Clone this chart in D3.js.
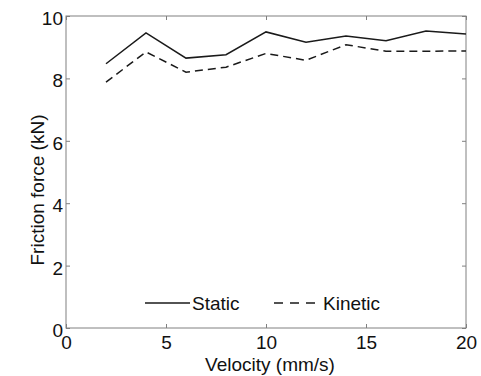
<!DOCTYPE html>
<html>
<head>
<meta charset="utf-8">
<script src="https://cdn.jsdelivr.net/npm/d3@7"></script>
<style>
  body { margin: 0; background: #fff; }
  text { font-family: "Liberation Sans", Arial, sans-serif; }
</style>
</head>
<body>
<svg id="chart" width="481" height="376"></svg>
<script>
var velocity = [2, 4, 6, 8, 10, 12, 14, 16, 18, 20];
var staticForce = [8.47, 9.46, 8.65, 8.76, 9.49, 9.16, 9.36, 9.21, 9.52, 9.42];
var kineticForce = [7.88, 8.85, 8.20, 8.36, 8.80, 8.58, 9.08, 8.87, 8.87, 8.88];
var xTicks = [0, 5, 10, 15, 20];
var yTicks = [0, 2, 4, 6, 8, 10];

var svg = d3.select("#chart"),
  margin = { top: 16, right: 15, bottom: 48, left: 66 },
  width = +svg.attr("width") - margin.left - margin.right,
  height = +svg.attr("height") - margin.top - margin.bottom,
  g = svg.append("g").attr("transform", "translate(" + margin.left + "," + margin.top + ")");

var x = d3.scaleLinear().domain([0, 20]).range([0, width]);
var y = d3.scaleLinear().domain([0, 10]).range([height, 0]);

var axisColor = "#808080";
var fontSize = 19;

function styleAxis(sel, hideText) {
  sel.select(".domain").remove();
  sel.selectAll("line").attr("stroke", axisColor);
  sel.selectAll("text")
    .attr("fill", "#111")
    .style("font-size", fontSize + "px")
    .style("display", hideText ? "none" : null);
}

// bottom and left axes, ticks pointing inward
g.append("g")
  .attr("transform", "translate(0," + height + ")")
  .call(d3.axisBottom(x).tickValues(xTicks).tickSize(-4).tickPadding(0))
  .call(function(s) { styleAxis(s, false); })
  .selectAll("text").attr("y", 21).attr("dy", null);

g.append("g")
  .call(d3.axisLeft(y).tickValues(yTicks).tickSize(-4).tickPadding(3))
  .call(function(s) { styleAxis(s, false); })
  .selectAll("text").attr("dy", "0.45em");

// top and right ticks
g.append("g")
  .call(d3.axisTop(x).tickValues(xTicks).tickSize(-4))
  .call(function(s) { styleAxis(s, true); });

g.append("g")
  .attr("transform", "translate(" + width + ",0)")
  .call(d3.axisRight(y).tickValues(yTicks).tickSize(-4))
  .call(function(s) { styleAxis(s, true); });

// box
g.append("rect")
  .attr("x", 0).attr("y", 0)
  .attr("width", width).attr("height", height)
  .attr("fill", "none")
  .attr("stroke", axisColor)
  .attr("stroke-width", 1);

var line = d3.line()
  .x(function(d, i) { return x(velocity[i]); })
  .y(function(d) { return y(d); });

g.append("path")
  .datum(staticForce)
  .attr("fill", "none")
  .attr("stroke", "#1a1a1a")
  .attr("stroke-width", 1.5)
  .attr("d", line);

g.append("path")
  .datum(kineticForce)
  .attr("fill", "none")
  .attr("stroke", "#1a1a1a")
  .attr("stroke-width", 1.5)
  .attr("stroke-dasharray", "8,5")
  .attr("d", line);

// legend
var legend = svg.append("g").attr("font-size", fontSize);
legend.append("line")
  .attr("x1", 145).attr("x2", 190).attr("y1", 303).attr("y2", 303)
  .attr("stroke", "#1a1a1a").attr("stroke-width", 1.5);
legend.append("text")
  .attr("x", 192).attr("y", 303).attr("dy", "0.36em")
  .attr("fill", "#111")
  .text("Static");
legend.append("line")
  .attr("x1", 274).attr("x2", 321).attr("y1", 303).attr("y2", 303)
  .attr("stroke", "#1a1a1a").attr("stroke-width", 1.5)
  .attr("stroke-dasharray", "9,7");
legend.append("text")
  .attr("x", 323).attr("y", 303).attr("dy", "0.36em")
  .attr("fill", "#111")
  .text("Kinetic");

// axis titles
svg.append("text")
  .attr("x", 270)
  .attr("y", 371)
  .attr("text-anchor", "middle")
  .attr("font-size", fontSize)
  .attr("fill", "#111")
  .text("Velocity (mm/s)");

svg.append("text")
  .attr("transform", "translate(44,190) rotate(-90)")
  .attr("text-anchor", "middle")
  .attr("font-size", fontSize)
  .attr("fill", "#111")
  .text("Friction force (kN)");
</script>
</body>
</html>
